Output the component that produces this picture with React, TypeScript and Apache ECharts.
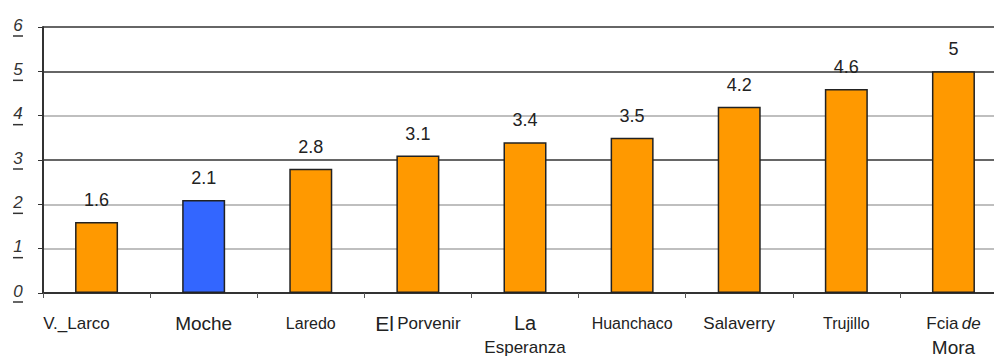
import React, { useEffect, useRef } from "react";
import * as echarts from "echarts";

const categories = ["V._Larco", "Moche", "Laredo", "El Porvenir", "La Esperanza", "Huanchaco", "Salaverry", "Trujillo", "Fcia de Mora"];
const values = [1.6, 2.1, 2.8, 3.1, 3.4, 3.5, 4.2, 4.6, 5];
const highlighted = ["Moche"];
const yTicks = [0, 1, 2, 3, 4, 5, 6];

const labelRich: Record<string, string> = {
  "V._Larco": "{vl|V._Larco}",
  "Moche": "{l|Moche}",
  "Laredo": "{s|Laredo}",
  "El Porvenir": "{el|El} {m|Porvenir}",
  "La Esperanza": "{xl|La}\n{m2|Esperanza}",
  "Huanchaco": "{s|Huanchaco}",
  "Salaverry": "{m|Salaverry}",
  "Trujillo": "{s|Trujillo}",
  "Fcia de Mora": "{m|Fcia} {i|de}\n{l2|Mora}",
};

export default function App() {
  const ref = useRef<HTMLDivElement>(null);
  useEffect(() => {
    if (!ref.current) return;
    const chart = echarts.init(ref.current, null, { renderer: "svg" });
    chart.setOption({
      animation: false,
      textStyle: { fontFamily: "Liberation Sans, Arial, sans-serif" },
      grid: { left: 43, top: 27, width: 964, height: 266, containLabel: false, outerBoundsMode: "none" },
      xAxis: {
        type: "category",
        data: categories,
        axisLine: { lineStyle: { color: "#333", width: 2 } },
        axisTick: { show: true, length: 5, lineStyle: { color: "#555" } },
        axisLabel: {
          margin: 17,
          interval: 0,
          color: "#222",
          formatter: (v: string) => labelRich[v] ?? v,
          rich: {
            s: { fontSize: 16, lineHeight: 26, color: "#222" },
            m: { fontSize: 17, lineHeight: 26, color: "#222" },
            m2: { fontSize: 17, lineHeight: 22, color: "#222" },
            vl: { fontSize: 17, lineHeight: 26, color: "#222", padding: [0, 40, 0, 0] },
            l: { fontSize: 19, lineHeight: 26, color: "#222" },
            l2: { fontSize: 19, lineHeight: 22, color: "#222" },
            el: { fontSize: 21, lineHeight: 26, color: "#222" },
            xl: { fontSize: 20, lineHeight: 26, color: "#222" },
            i: { fontSize: 17, lineHeight: 26, fontStyle: "italic", color: "#222" },
          },
        },
      },
      yAxis: {
        type: "value",
        min: 0,
        max: 6,
        interval: 1,
        axisLine: { show: true, lineStyle: { color: "#333", width: 2 } },
        axisTick: { show: true, length: 5, lineStyle: { color: "#333" } },
        splitLine: {
          show: true,
          lineStyle: { color: ["#333", "#aaa", "#aaa", "#333", "#aaa", "#333", "#333"], width: 1.5 },
        },
        axisLabel: {
          margin: 20,
          formatter: (v: number) => (yTicks.includes(v) ? `{n|${v}}\n{u| }` : ""),
          rich: {
            n: { fontSize: 17, fontStyle: "italic", color: "#333", lineHeight: 18, align: "center" },
            u: { width: 10, height: 1.5, backgroundColor: "#333", lineHeight: 4, align: "center" },
          },
        },
      },
      series: [
        {
          type: "bar",
          barWidth: 43,
          data: values.map((v, i) => ({
            value: v,
            itemStyle: {
              color: highlighted.includes(categories[i]) ? "#3366FF" : "#FF9900",
              borderColor: "#222",
              borderWidth: 1.5,
            },
          })),
          label: {
            show: true,
            position: "top",
            distance: 13,
            fontSize: 18,
            color: "#222",
          },
        },
      ],
    });
    return () => chart.dispose();
  }, []);
  return (
    <div style={{ position: "absolute", left: 0, top: 0, width: 994, height: 357, overflow: "hidden" }}>
      <div ref={ref} style={{ width: 1010, height: 357 }} />
    </div>
  );
}
